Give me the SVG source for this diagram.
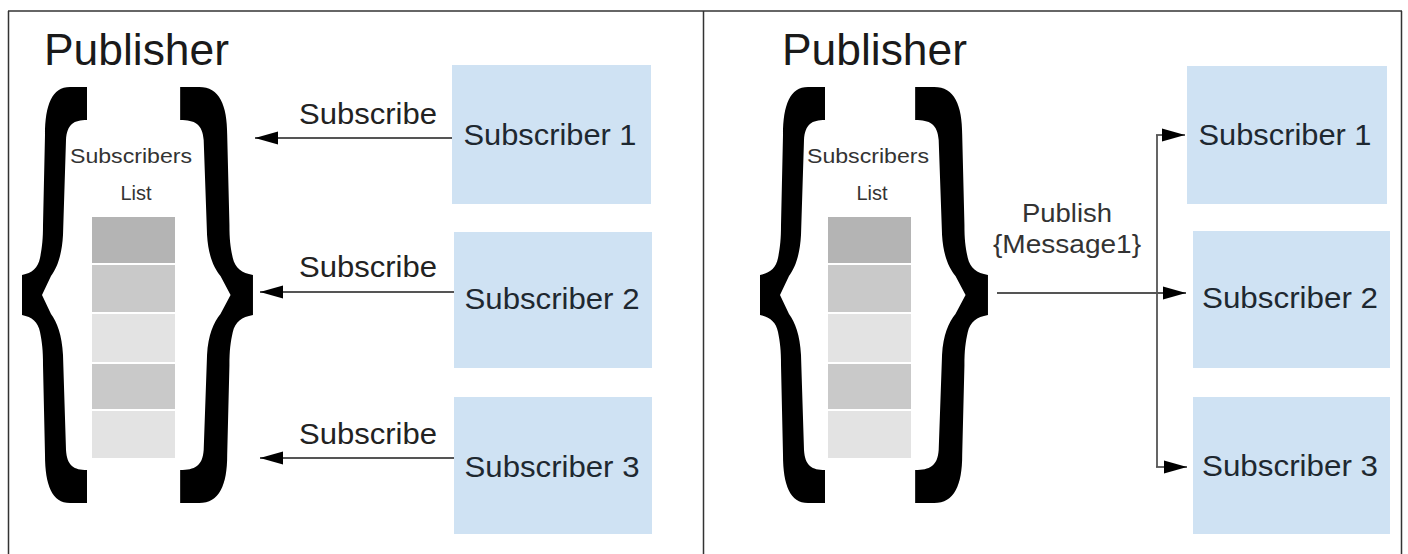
<svg xmlns="http://www.w3.org/2000/svg" width="1408" height="554" viewBox="0 0 1408 554">
  <defs>
    <style>
      .frame { stroke: #333; stroke-width: 1.5; fill: none; }
      text { font-family: "Liberation Sans", Arial, sans-serif; }
      .title { font-size: 44px; fill: #1a1a1a; }
      .listlbl { font-size: 20px; fill: #333; text-anchor: middle; }
      .sub { fill: #cfe2f3; }
      .subtxt { font-size: 30px; fill: #1e2830; text-anchor: middle; }
      .lbl { font-size: 29px; fill: #222; text-anchor: middle; }
      .pub { font-size: 26px; fill: #333; text-anchor: middle; }
      .conn { stroke: #555; stroke-width: 1.8; fill: none; }
      .brace { fill: #000; }
    </style>
    <marker id="ah" viewBox="0 -7 23 14" refX="23" refY="0" markerWidth="23" markerHeight="14" markerUnits="userSpaceOnUse" orient="auto">
      <path d="M0,-6.5 L23,0 L0,6.5 Z" fill="#000"/>
    </marker>
    <path id="braceL" d="M22,275 C32,273 38,268 40,258 C42,248 43,240 43,225 L45,135 C45,105 52,87 70,87 L87,87 L87,120 C74,120 67,124 66,140 L63,235 C62,255 57,268 51,276 L42,295 L51,314 C57,322 62,335 63,355 L66,450 C67,466 74,470 87,470 L87,503 L70,503 C52,503 45,485 45,455 L43,365 C43,350 42,342 40,332 C38,322 32,317 22,315 Z"/>
  </defs>

  <g id="frame">
    <line class="frame" x1="8" y1="11" x2="1402" y2="11"/>
    <line class="frame" x1="8.5" y1="11" x2="8.5" y2="554"/>
    <line class="frame" x1="703.5" y1="11" x2="703.5" y2="554"/>
    <line class="frame" x1="1401.5" y1="11" x2="1401.5" y2="554"/>
  </g>

  <!-- Left panel -->
  <g id="publisher-left">
    <text class="title" x="44" y="65" textLength="185" lengthAdjust="spacingAndGlyphs">Publisher</text>
    <use href="#braceL" class="brace"/>
    <use href="#braceL" class="brace" transform="matrix(-1.12 0 0 1 277.6 0)"/>
    <text class="listlbl" x="131" y="163" textLength="122" lengthAdjust="spacingAndGlyphs">Subscribers</text>
    <text class="listlbl" x="136" y="200">List</text>
    <g id="list-left">
      <rect x="92" y="217" width="83" height="46" fill="#b4b4b4"/>
      <rect x="92" y="265" width="83" height="47" fill="#c9c9c9"/>
      <rect x="92" y="314" width="83" height="48" fill="#e3e3e3"/>
      <rect x="92" y="364" width="83" height="45" fill="#c9c9c9"/>
      <rect x="92" y="411" width="83" height="47" fill="#e3e3e3"/>
    </g>
  </g>

  <g id="left-sub1">
    <rect class="sub" x="452" y="65" width="199" height="139"/>
    <text class="subtxt" x="550" y="145" textLength="173" lengthAdjust="spacingAndGlyphs">Subscriber 1</text>
  </g>
  <g id="left-sub2">
    <rect class="sub" x="454" y="232" width="198" height="136"/>
    <text class="subtxt" x="552" y="309" textLength="175" lengthAdjust="spacingAndGlyphs">Subscriber 2</text>
  </g>
  <g id="left-sub3">
    <rect class="sub" x="454" y="397" width="198" height="137"/>
    <text class="subtxt" x="552" y="477" textLength="175" lengthAdjust="spacingAndGlyphs">Subscriber 3</text>
  </g>

  <!-- Right panel -->
  <g id="publisher-right">
    <text class="title" x="782" y="65" textLength="185" lengthAdjust="spacingAndGlyphs">Publisher</text>
    <use href="#braceL" class="brace" transform="translate(738 0)"/>
    <use href="#braceL" class="brace" transform="matrix(-1.12 0 0 1 1012.6 0)"/>
    <text class="listlbl" x="868" y="163" textLength="122" lengthAdjust="spacingAndGlyphs">Subscribers</text>
    <text class="listlbl" x="872" y="200">List</text>
    <g id="list-right">
      <rect x="828" y="217" width="83" height="46" fill="#b4b4b4"/>
      <rect x="828" y="265" width="83" height="47" fill="#c9c9c9"/>
      <rect x="828" y="314" width="83" height="48" fill="#e3e3e3"/>
      <rect x="828" y="364" width="83" height="45" fill="#c9c9c9"/>
      <rect x="828" y="411" width="83" height="47" fill="#e3e3e3"/>
    </g>
  </g>

  <g id="right-sub1">
    <rect class="sub" x="1187" y="66" width="200" height="138"/>
    <text class="subtxt" x="1285" y="145" textLength="173" lengthAdjust="spacingAndGlyphs">Subscriber 1</text>
  </g>
  <g id="right-sub2">
    <rect class="sub" x="1193" y="231" width="197" height="137"/>
    <text class="subtxt" x="1290" y="308" textLength="176" lengthAdjust="spacingAndGlyphs">Subscriber 2</text>
  </g>
  <g id="right-sub3">
    <rect class="sub" x="1193" y="397" width="197" height="137"/>
    <text class="subtxt" x="1290" y="476" textLength="176" lengthAdjust="spacingAndGlyphs">Subscriber 3</text>
  </g>

  <g id="connectors">
    <line class="conn" x1="452" y1="138" x2="255" y2="138" marker-end="url(#ah)"/>
    <line class="conn" x1="454" y1="292" x2="260" y2="292" marker-end="url(#ah)"/>
    <line class="conn" x1="454" y1="458" x2="260" y2="458" marker-end="url(#ah)"/>
    <line class="conn" x1="997" y1="293" x2="1186" y2="293" marker-end="url(#ah)"/>
    <line class="conn" x1="1157" y1="135" x2="1157" y2="467"/>
    <line class="conn" x1="1156" y1="135" x2="1185" y2="135" marker-end="url(#ah)"/>
    <line class="conn" x1="1156" y1="467" x2="1187" y2="467" marker-end="url(#ah)"/>
  </g>

  <g id="labels">
    <text class="lbl" x="368" y="124" textLength="138" lengthAdjust="spacingAndGlyphs">Subscribe</text>
    <text class="lbl" x="368" y="277" textLength="138" lengthAdjust="spacingAndGlyphs">Subscribe</text>
    <text class="lbl" x="368" y="444" textLength="138" lengthAdjust="spacingAndGlyphs">Subscribe</text>
    <text class="pub" x="1067" y="222" textLength="90" lengthAdjust="spacingAndGlyphs">Publish</text>
    <text class="pub" x="1067" y="253" textLength="148" lengthAdjust="spacingAndGlyphs">{Message1}</text>
  </g>
</svg>
